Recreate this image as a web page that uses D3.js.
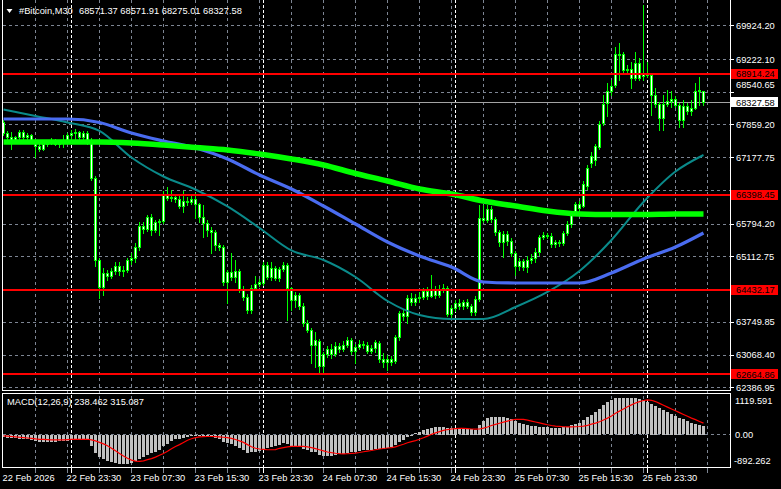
<!DOCTYPE html>
<html><head><meta charset="utf-8">
<script src="https://cdn.jsdelivr.net/npm/d3@7"></script>
<style>
html,body{margin:0;padding:0;background:#000;}
svg{display:block;}
text{font-family:"Liberation Sans",Arial,sans-serif;font-size:9.3px;}
</style></head><body>
<svg id="c" width="781" height="489"></svg>
<script>
// ---------------- DATA ----------------
const openP=[
67920,67691,67608,67545,67608,67712,67608,67649,67545,67420,
67358,67462,67504,67545,67462,67504,67545,67649,67691,67712,
67608,67691,67545,66754,65047,64485,64776,64714,64818,64922,
64818,64839,65047,65088,65317,65755,65692,65942,65671,65838,
65859,66421,66338,66358,66317,66171,66275,66254,66317,66213,
65942,65817,65671,65630,65359,65317,64589,64797,64693,64818,
64422,64276,64006,64464,64547,64568,64943,64693,64880,64672,
64859,64943,64464,64214,64318,64089,63735,63589,63277,63360,
62840,63090,63194,63090,63256,63194,63277,63381,63152,63235,
63298,63277,63152,63215,63319,62986,62923,62986,62944,63444,
63943,63881,64256,64172,64256,64276,64401,64297,64443,64318,
64443,64464,63923,64047,64152,64089,64172,64089,63964,64235,
65921,65880,66109,65900,65630,65422,65588,65442,65193,64922,
65026,64901,65047,65088,65213,65526,65567,65546,65380,65422,
65401,65609,65796,66005,66213,66171,66587,67066,67129,67399,
67899,68316,68565,68690,69336,69336,69003,69023,68836,69148,
68878,68919,68898,68482,68295,68003,68295,68357,68399,68274,
67962,68253,68149,68211,68565,68571.37];
const highP=[
67962,67733,67712,67628,67753,67753,67691,67670,67566,67462,
67504,67545,67587,67566,67524,67649,67691,67753,67774,67733,
67733,67733,67587,66796,65088,64880,64839,64880,65005,65005,
64922,65088,65193,65401,65838,65838,65984,66005,65880,65900,
66483,66567,66504,66421,66379,66483,66358,66379,66442,66234,
66192,65880,65734,65671,65401,65359,64839,65193,65047,64859,
64505,64339,64526,64714,64651,65005,65005,65005,64922,64901,
65005,64984,64485,64381,64360,64152,63798,63631,63548,63402,
63131,63256,63298,63340,63319,63360,63444,63423,63298,63381,
63360,63340,63277,63381,63360,63111,63069,63048,63485,63985,
64027,64318,64360,64339,64381,64464,64485,64734,64505,64526,
64547,64505,64110,64214,64235,64214,64235,64131,64297,66192,
66192,66192,66171,65942,65671,65651,65651,65505,65234,65088,
65068,65130,65172,65297,65567,65630,65609,65609,65463,65463,
65651,65859,66025,66254,66275,66692,67025,67295,67462,67941,
68482,68732,68794,69481,69565,69377,69107,69169,69377,69252,
70356,69169,68940,68628,68336,68482,68586,68565,68461,68316,
68378,68316,68378,68732,68857,68571.91];
const lowP=[
67649,67566,67358,67504,67566,67566,67524,67504,67191,67316,
67337,67420,67462,67441,67399,67399,67524,67566,67566,67566,
67524,67462,66712,64922,64256,64318,64630,64672,64755,64734,
64714,64797,64964,65005,65255,65609,65651,65567,65630,65567,
65817,66296,66275,66254,66129,66046,66192,66213,65921,65838,
65526,65546,65193,65255,65255,64526,64152,64630,64589,64381,
64214,63943,63943,64422,64505,64526,64651,64630,64630,64610,
64818,63798,64006,64068,64027,63673,63548,62902,62819,62694,
62715,63027,63007,63048,63131,63152,63235,63090,62902,63194,
63215,63111,63111,63131,62923,62819,62757,62861,62902,63381,
63798,63735,64110,64110,64172,64235,64235,64276,64256,64276,
64381,63881,63860,63985,64027,64027,64047,63902,63902,64193,
65838,65838,65838,65567,65338,65109,65359,65130,64734,64839,
64839,64797,64984,65005,65151,65484,65505,65317,65317,65338,
65359,65567,65734,65984,66046,66150,66525,66983,67025,67358,
67857,68045,68482,68649,68794,68940,68940,68628,68794,68794,
68794,68857,68066,68232,67753,67753,68253,68232,68232,67816,
67816,68087,68066,68191,68274,68275.01];
const closeP=[
67691,67608,67545,67608,67712,67608,67649,67545,67420,67358,
67462,67504,67545,67462,67504,67545,67649,67691,67712,67608,
67691,67545,66754,65047,64485,64776,64714,64818,64922,64818,
64839,65047,65088,65317,65755,65692,65942,65671,65838,65859,
66421,66338,66358,66317,66171,66275,66254,66317,66213,65942,
65817,65671,65630,65359,65317,64589,64797,64693,64818,64422,
64276,64006,64464,64547,64589,64943,64693,64880,64672,64859,
64943,64464,64214,64318,64089,63735,63589,63277,63381,62840,
63090,63194,63090,63256,63194,63277,63381,63152,63235,63298,
63277,63152,63215,63340,62986,62923,62986,62923,63444,63943,
63881,64256,64172,64256,64276,64401,64297,64443,64318,64443,
64464,63923,64047,64152,64089,64172,64089,63964,64235,65921,
65880,66109,65900,65630,65422,65588,65442,65193,64922,65026,
64901,65047,65088,65213,65526,65567,65546,65380,65422,65401,
65609,65796,65984,66213,66129,66629,66962,67212,67420,67878,
68295,68565,68669,69336,69315,69003,69023,68836,69148,68836,
68919,68898,68482,68295,68003,68295,68357,68399,68274,67962,
68253,68149,68211,68565,68586,68327.58];

const macdMain=[
-60,-80,-90,-95,-100,-110,-120,-140,-170,-190,
-190,-185,-180,-180,-175,-165,-150,-140,-130,-125,
-125,-140,-300,-480,-590,-650,-700,-740,-770,-790,
-800,-790,-760,-720,-660,-610,-550,-500,-450,-410,
-300,-240,-170,-120,-100,-80,-60,-40,-30,-30,
-40,-50,-60,-90,-110,-200,-230,-250,-300,-340,
-400,-480,-470,-460,-440,-370,-340,-320,-300,-270,
-230,-250,-300,-320,-330,-380,-420,-450,-470,-540,
-560,-570,-560,-550,-530,-510,-480,-470,-460,-440,
-420,-410,-400,-380,-390,-380,-360,-330,-260,-180,
-130,-50,-10,40,80,120,160,180,200,220,
210,180,180,190,170,160,160,150,140,270,
380,440,480,490,480,470,450,420,360,330,
290,260,240,230,220,210,200,190,180,180,
200,220,270,300,330,400,470,540,630,710,
800,880,940,990,1000,1000,1000,990,990,960,
930,880,840,780,720,670,620,570,520,460,
420,370,330,300,270,238.462];
const macdSignal=[
-30,-40,-50,-60,-70,-80,-90,-100,-115,-125,
-130,-135,-140,-140,-140,-140,-135,-130,-125,-125,
-125,-125,-140,-170,-210,-250,-300,-370,-440,-510,
-580,-640,-690,-720,-725,-710,-680,-650,-610,-560,
-510,-450,-380,-320,-270,-210,-150,-110,-80,-60,
-55,-50,-50,-55,-60,-70,-80,-100,-130,-170,
-210,-270,-330,-370,-390,-400,-410,-410,-405,-370,
-350,-330,-320,-320,-320,-320,-330,-350,-380,-410,
-440,-470,-490,-505,-515,-520,-518,-510,-500,-485,
-465,-445,-430,-410,-390,-375,-362,-350,-330,-295,
-260,-220,-190,-160,-125,-85,-40,10,50,85,
115,140,155,165,170,170,165,155,150,155,
180,210,250,280,310,340,370,400,415,420,
415,395,370,345,320,295,270,250,235,225,
215,210,210,215,222,235,255,285,315,350,
400,450,510,580,640,700,760,810,860,900,
930,945,935,900,850,800,750,700,650,600,
550,500,450,410,360,315.087];

// moving averages, read every 8 bars
const maBars=[0,8,16,24,32,40,48,56,64,72,80,88,96,104,112,120,128,136,144,152,160,168,175];
const maLime=[67504,67504,67504,67504,67483,67441,67389,67337,67254,67150,67025,66848,66692,66525,66421,66275,66171,66067,66005,65994,65994,66005,66005];
const maBlue=[67982,67982,67982,67910,67691,67524,67379,67150,66817,66525,66171,65796,65422,65130,64901,64589,64568,64568,64568,64776,65068,65317,65609];
const maTeal=[68180,68045,67910,67733,67181,66785,66515,66161,65713,65245,65047,64693,64193,63902,63818,63818,64068,64381,64818,65463,66254,66889,67233];

const levels=[68914.24,66398.45,64432.17,62664.86];
const lastPrice=68327.58;
const priceTicks=[69924.20,69222.10,68540.65,67859.20,67177.75,66496.30,65794.20,65112.75,64431.30,63749.85,63068.40,62386.95];
const macdTicks=[1119.591,0.00,-892.262];
const timeLabels=["22 Feb 2026","22 Feb 23:30","23 Feb 07:30","23 Feb 15:30","23 Feb 23:30","24 Feb 07:30","24 Feb 15:30","24 Feb 23:30","25 Feb 07:30","25 Feb 15:30","25 Feb 23:30"];
const timeLabelBars=[0,16,32,48,64,80,96,112,128,144,160];
const separatorBars=[17,65,113,161];
const headerSymbol="#Bitcoin,M30";
const headerOHLC="68571.37 68571.91 68275.01 68327.58";
const macdTitle="MACD(12,26,9) 238.462 315.087";

// ---------------- LAYOUT ----------------
const W=781,H=489;
const L=2.5,R=730.5,mainBot=390.5,mTop=393.5,mBot=467.5;
const gridCol="#7d8593", fg="#ffffff";
const n=closeP.length;
const x=d3.scaleLinear().domain([0,175]).range([3.5,703.5]);
const yP=d3.scaleLinear().domain([62319,70460]).range([391,0]);
const yM=d3.scaleLinear().domain([-892.262,1119.591]).range([467.5,393.5]);
const cr=v=>Math.round(v-0.5)+0.5;

const svg=d3.select("#c").attr("shape-rendering","crispEdges");
svg.append("rect").attr("width",W).attr("height",H).attr("fill","#000");

const defs=svg.append("defs");
defs.append("clipPath").attr("id","clipMain").append("rect").attr("x",L).attr("y",0).attr("width",R-L).attr("height",mainBot);
defs.append("clipPath").attr("id","clipMacd").append("rect").attr("x",L).attr("y",mTop).attr("width",R-L).attr("height",mBot-mTop);

// grid
const grid=svg.append("g");
priceTicks.forEach(t=>{
  grid.append("line").attr("x1",L).attr("x2",R).attr("y1",cr(yP(t))).attr("y2",cr(yP(t)))
    .attr("stroke",gridCol).attr("stroke-dasharray","3,3");
});
grid.append("line").attr("x1",L).attr("x2",R).attr("y1",cr(yM(0))).attr("y2",cr(yM(0)))
  .attr("stroke",gridCol).attr("stroke-dasharray","3,3");
for(let b=8;b<=176;b+=8){
  const gx=cr(x(b));
  grid.append("line").attr("x1",gx).attr("x2",gx).attr("y1",0).attr("y2",mBot)
    .attr("stroke",gridCol).attr("stroke-dasharray","3,3");
  grid.append("line").attr("x1",gx).attr("x2",gx).attr("y1",mBot).attr("y2",mBot+5).attr("stroke",gridCol);
}
separatorBars.forEach(b=>{
  const gx=cr(x(b));
  grid.append("line").attr("x1",gx).attr("x2",gx).attr("y1",0).attr("y2",mBot)
    .attr("stroke","#fff").attr("stroke-dasharray","3,2");
  grid.append("line").attr("x1",gx).attr("x2",gx).attr("y1",mBot).attr("y2",mBot+5).attr("stroke","#fff");
});

// last price line
svg.append("line").attr("x1",L).attr("x2",R).attr("y1",cr(yP(lastPrice))).attr("y2",cr(yP(lastPrice)))
  .attr("stroke","#a4a4a4");

// candles
const cg=svg.append("g").attr("clip-path","url(#clipMain)");
for(let i=0;i<n;i++){
  const cx=cr(x(i));
  cg.append("line").attr("x1",cx).attr("x2",cx).attr("y1",Math.round(yP(highP[i]))).attr("y2",Math.round(yP(lowP[i]))+1)
    .attr("stroke","#00ff00");
  const a=Math.round(yP(openP[i])), b=Math.round(yP(closeP[i]));
  const top=Math.min(a,b)+0.5, bot=Math.max(a,b)+0.5;
  cg.append("rect").attr("x",cx-1).attr("y",top).attr("width",2).attr("height",Math.max(bot-top,0))
    .attr("fill","#ffffff").attr("stroke","#00ff00");
}

// moving averages
const maLine=d3.line().x((d,k)=>x(maBars[k])).y(d=>yP(d)).curve(d3.curveMonotoneX);
const mg=svg.append("g").attr("clip-path","url(#clipMain)").attr("shape-rendering","auto");
mg.append("path").datum(maTeal).attr("d",maLine).attr("fill","none").attr("stroke","#0a8a8a").attr("stroke-width",2);
mg.append("path").datum(maBlue).attr("d",maLine).attr("fill","none").attr("stroke","#4a6cf0").attr("stroke-width",3.2);
mg.append("path").datum(maLime).attr("d",maLine).attr("fill","none").attr("stroke","#00ff00").attr("stroke-width",5.5);

// horizontal levels
levels.forEach(v=>{
  svg.append("line").attr("x1",L).attr("x2",R).attr("y1",Math.round(yP(v))).attr("y2",Math.round(yP(v)))
    .attr("stroke","#ff0000").attr("stroke-width",2);
});

// MACD
const hg=svg.append("g").attr("clip-path","url(#clipMacd)");
const z=yM(0);
macdMain.forEach((v,i)=>{
  const cx=Math.round(x(i)-0.5);
  const yv=yM(v);
  hg.append("rect").attr("x",cx-1).attr("width",3)
    .attr("y",Math.round(Math.min(yv,z))).attr("height",Math.max(1,Math.round(Math.abs(yv-z))))
    .attr("fill","#c0c0c0");
});
const sigLine=d3.line().x((d,i)=>x(i)).y(d=>yM(d));
hg.append("path").datum(macdSignal).attr("d",sigLine).attr("fill","none").attr("stroke","#ff0000").attr("stroke-width",1.2).attr("shape-rendering","auto");

// borders
const bd=svg.append("g").attr("fill","none").attr("stroke","#fff");
bd.append("path").attr("d",`M${L},0V${mainBot}H${R}V0`);
bd.append("rect").attr("x",L).attr("y",mTop).attr("width",R-L).attr("height",mBot-mTop);

// right axis labels
const ax=svg.append("g");
const yCur=yP(lastPrice);
const levelYs=levels.map(v=>yP(v));
priceTicks.forEach(t=>{
  let ty=yP(t);
  if(levelYs.some(ly=>Math.abs(ly-ty)<11)) return;
  ax.append("line").attr("x1",R).attr("x2",R+3).attr("y1",cr(ty)).attr("y2",cr(ty)).attr("stroke","#fff");
  if(Math.abs(ty-yCur)<13) ty=yCur-17.5;
  ax.append("text").attr("x",736).attr("y",ty+3.2).attr("fill",fg).text(t.toFixed(2));
});
levels.forEach(v=>{
  const ly=yP(v);
  ax.append("rect").attr("x",731).attr("y",Math.round(ly)-5).attr("width",47).attr("height",10).attr("fill","#ff0000");
  ax.append("text").attr("x",736).attr("y",ly+3.2).attr("fill","#000").text(v.toFixed(2));
});
ax.append("rect").attr("x",731).attr("y",Math.round(yCur)-5).attr("width",47).attr("height",10).attr("fill","#fff");
ax.append("text").attr("x",736).attr("y",yCur+3.2).attr("fill","#000").text(lastPrice.toFixed(2));

// MACD axis labels
ax.append("text").attr("x",735).attr("y",yM(macdTicks[0])+10.5).attr("fill",fg).text(macdTicks[0].toFixed(3));
ax.append("text").attr("x",735).attr("y",yM(macdTicks[1])+3.4).attr("fill",fg).text(macdTicks[1].toFixed(2));
ax.append("text").attr("x",734).attr("y",yM(macdTicks[2])-3.5).attr("fill",fg).text(macdTicks[2].toFixed(3));

// time labels
timeLabels.forEach((t,k)=>{
  ax.append("text").attr("x",x(timeLabelBars[k])-1).attr("y",481).attr("fill",fg).text(t);
});

// header
svg.append("path").attr("d","M6.5,9H12.5L9.5,13Z").attr("fill","#fff").attr("shape-rendering","auto");
svg.append("text").attr("x",19).attr("y",14.3).attr("fill",fg).text(headerSymbol);
svg.append("text").attr("x",79).attr("y",14.3).attr("fill",fg).text(headerOHLC);
svg.append("text").attr("x",7).attr("y",405).attr("fill",fg).text(macdTitle);
</script>
</body></html>
